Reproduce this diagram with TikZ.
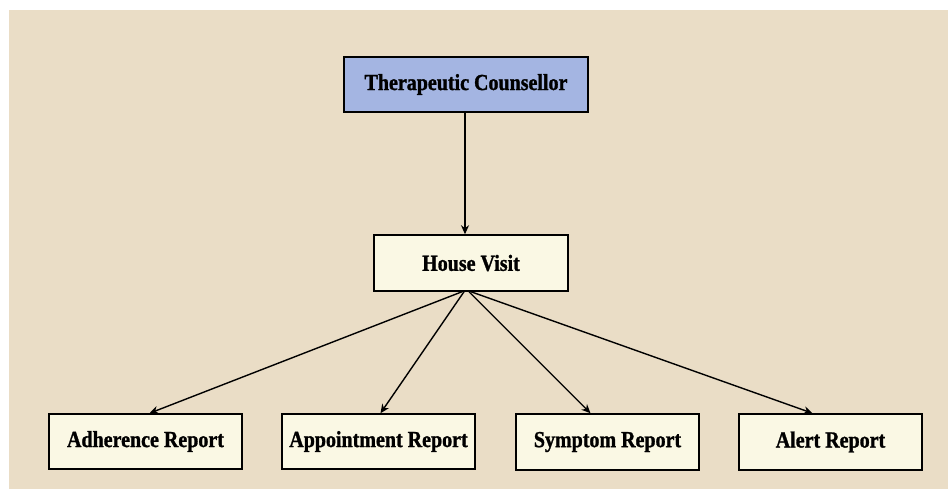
\documentclass[tikz,border=0pt]{standalone}
\usepackage{fontspec}
\setmainfont{Liberation Serif}
\newfontfamily\labelfont[FakeStretch=0.87,FakeBold=1.2]{Liberation Serif}
\usetikzlibrary{arrows.meta,calc}

\definecolor{paper}{HTML}{EADDC6}
\definecolor{cream}{HTML}{FAF8E4}
\definecolor{rolefill}{HTML}{A4B5E2}

\tikzset{
  box/.style={draw=black, line width=1.5pt, fill=cream, inner sep=0pt,
    font=\labelfont\fontsize{23}{26}\selectfont\bfseries},
  rolebox/.style={box, fill=rolefill},
  link/.style={draw=black, line width=1.4pt,
    -{Stealth[length=9pt,width=8pt]}}
}

\begin{document}
\begin{tikzpicture}[x=1pt,y=-1pt]
  \useasboundingbox (0,0) rectangle (948,489);
  % paper background
  \fill[white] (0,0) rectangle (948,489);
  \fill[paper] (9,10) rectangle (948,489);

  % nodes
  \node[rolebox, minimum width=244pt, minimum height=55pt] (tc) at (466,84.5) {Therapeutic Counsellor};
  \node[box, minimum width=194pt, minimum height=56pt] (hv) at (471,263) {House Visit};
  \node[box, minimum width=193pt, minimum height=55pt] (adh) at (145.5,441.5) {Adherence Report};
  \node[box, minimum width=193pt, minimum height=55pt] (app) at (378.5,441.5) {Appointment Report};
  \node[box, minimum width=183pt, minimum height=56pt] (sym) at (607.5,442) {Symptom Report};
  \node[box, minimum width=183pt, minimum height=56pt] (alr) at (830.5,442) {Alert Report};

  % connectors
  \draw[link] ($(tc.south)+(-1,0)$) -- ($(hv.north)+(-6,0)$);
  \draw[link] ($(hv.south)+(-9,0)$) -- ($(adh.north)+(4,0)$);
  \draw[link] ($(hv.south)+(-7,0)$) -- ($(app.north)+(2,0)$);
  \draw[link] ($(hv.south)+(-2,0)$) -- ($(sym.north)+(-17,0)$);
  \draw[link] ($(hv.south)+(0,0)$) -- ($(alr.north)+(-18,0)$);
\end{tikzpicture}
\end{document}
